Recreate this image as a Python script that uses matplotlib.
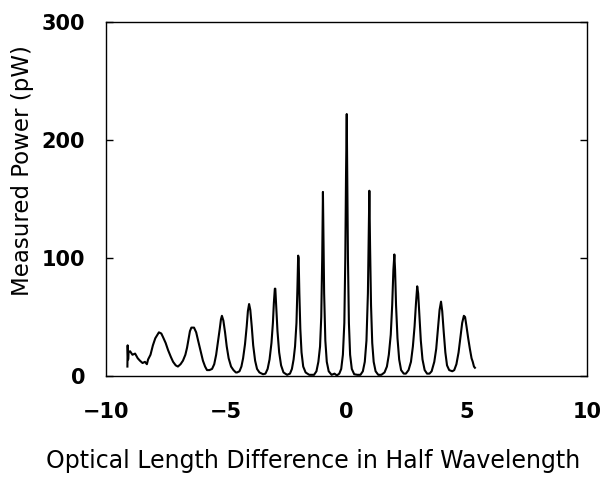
import matplotlib
matplotlib.use("Agg")
import matplotlib.pyplot as plt

# Trace (x: optical length difference, y: power in pW)
x_start = [-9.11, -9.10, -9.08, -9.06, -9.00, -8.90, -8.79, -8.68, -8.59, -8.48, -8.38, -8.30, -8.25]
y_start = [8, 26, 14, 20, 21, 18, 19, 15, 13, 11, 12, 10, 14]

x_p1 = [-8.15, -8.05, -7.95, -7.80, -7.70, -7.63, -7.52, -7.42, -7.30, -7.21, -7.10, -7.01]
y_p1 = [18, 26, 32, 37, 36, 33, 28, 22, 16, 12, 9, 8]

x_p2 = [-6.90, -6.80, -6.70, -6.63, -6.51, -6.45, -6.34, -6.25, -6.17, -6.05, -5.97, -5.88, -5.80, -5.70]
y_p2 = [10, 13, 18, 24, 38, 41, 41, 37, 30, 20, 13, 8, 5, 5]

x_p3 = [-5.59, -5.50, -5.42, -5.35, -5.27, -5.22, -5.18, -5.12, -5.05, -4.98, -4.90, -4.80, -4.70, -4.60, -4.55]
y_p3 = [6, 10, 18, 28, 40, 48, 51, 47, 37, 25, 15, 8, 5, 3, 3]

x_p4 = [-4.45, -4.37, -4.30, -4.22, -4.15, -4.10, -4.05, -4.00, -3.94, -3.88, -3.80, -3.72, -3.62, -3.47]
y_p4 = [4, 8, 15, 27, 42, 55, 61, 56, 42, 26, 13, 6, 3, 1.5]

x_p5 = [-3.37, -3.28, -3.20, -3.12, -3.06, -3.02, -2.98, -2.96, -2.92, -2.87, -2.80, -2.72, -2.62, -2.47]
y_p5 = [2, 6, 14, 28, 45, 62, 74, 74, 58, 38, 20, 9, 3, 1]

x_p6 = [-2.35, -2.27, -2.20, -2.14, -2.08, -2.04, -2.01, -1.99, -1.96, -1.92, -1.87, -1.80, -1.70, -1.55]
y_p6 = [2, 6, 14, 25, 45, 75, 102, 100, 70, 40, 20, 8, 3, 1]

x_p7 = [-1.35, -1.25, -1.17, -1.10, -1.05, -1.01, -0.98, -0.96, -0.93, -0.88, -0.82, -0.74, -0.62, -0.50, -0.40]
y_p7 = [1, 4, 12, 25, 50, 100, 156, 120, 70, 30, 12, 4, 1, 2, 0.5]

x_p8 = [-0.30, -0.22, -0.15, -0.09, -0.05, -0.02, 0.01, 0.03, 0.06, 0.10, 0.15, 0.22, 0.32, 0.45]
y_p8 = [2, 6, 18, 45, 100, 170, 222, 170, 100, 45, 18, 6, 1.5, 1]

x_p9 = [0.58, 0.68, 0.76, 0.83, 0.89, 0.93, 0.95, 0.98, 1.02, 1.07, 1.13, 1.21, 1.32]
y_p9 = [1, 4, 12, 30, 70, 130, 157, 110, 60, 28, 12, 4, 1]

x_p10 = [1.45, 1.58, 1.68, 1.76, 1.84, 1.90, 1.95, 1.99, 2.02, 2.06, 2.12, 2.19, 2.27, 2.38]
y_p10 = [1, 3, 8, 18, 35, 60, 90, 103, 90, 60, 32, 14, 5, 2]

x_p11 = [2.47, 2.58, 2.68, 2.76, 2.83, 2.89, 2.94, 2.98, 3.03, 3.09, 3.16, 3.25, 3.35]
y_p11 = [2, 5, 12, 25, 42, 62, 76, 70, 52, 30, 14, 5, 2]

x_p12 = [3.45, 3.54, 3.65, 3.73, 3.81, 3.87, 3.93, 3.98, 4.04, 4.11, 4.18, 4.27, 4.40]
y_p12 = [2, 4, 12, 23, 42, 56, 63, 55, 38, 20, 9, 5, 4]

x_p13 = [4.48, 4.57, 4.66, 4.74, 4.81, 4.88, 4.93, 4.99, 5.06, 5.13, 5.20, 5.25, 5.30, 5.34]
y_p13 = [5, 10, 20, 33, 45, 51, 50, 42, 32, 23, 15, 12, 8, 7]

x_segments = [x_start, x_p1, x_p2, x_p3, x_p4, x_p5, x_p6, x_p7, x_p8, x_p9, x_p10, x_p11, x_p12, x_p13]
y_segments = [y_start, y_p1, y_p2, y_p3, y_p4, y_p5, y_p6, y_p7, y_p8, y_p9, y_p10, y_p11, y_p12, y_p13]

x_ticks = [-10, -5, 0, 5, 10]
x_ticklabels = ["\u221210", "\u22125", "0", "5", "10"]
y_ticks = [0, 100, 200, 300]
y_ticklabels = ["0", "100", "200", "300"]

x_all = [v for seg in x_segments for v in seg]
y_all = [v for seg in y_segments for v in seg]

fig = plt.figure(figsize=(6.07, 4.78), dpi=100)
ax = fig.add_axes([106/607, 1-376/478, (587-106)/607, (376-22)/478])
ax.plot(x_all, y_all, color="black", lw=1.5)

ax.set_xlim(-10, 10)
ax.set_ylim(0, 300)
ax.set_xticks(x_ticks)
ax.set_xticklabels(x_ticklabels)
ax.set_yticks(y_ticks)
ax.set_yticklabels(y_ticklabels)
ax.tick_params(axis="x", length=0, pad=19, labelsize=15)
ax.tick_params(axis="y", direction="in", length=5, width=1, pad=15, labelsize=15, right=True)
for lab in ax.get_xticklabels() + ax.get_yticklabels():
    lab.set_fontweight("bold")
for sp in ax.spines.values():
    sp.set_linewidth(1.0)

ax.set_xlabel("Optical Length Difference in Half Wavelength", fontsize=17)
ax.xaxis.set_label_coords(0.43, -0.205)
ax.set_ylabel("Measured Power (pW)", fontsize=16.5)
ax.yaxis.set_label_coords(-0.15, 0.58)

fig.savefig("out.png", dpi=100)
